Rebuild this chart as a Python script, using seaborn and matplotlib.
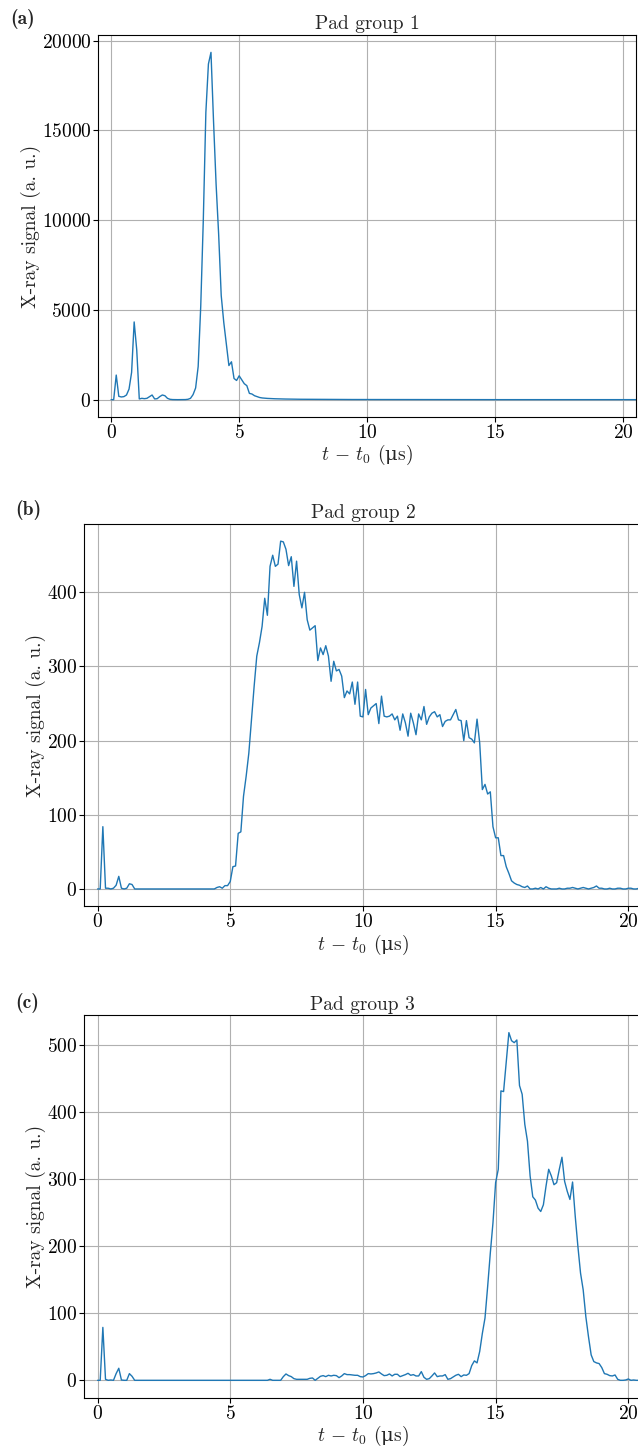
import numpy as np
import matplotlib
matplotlib.use("Agg")
import matplotlib.pyplot as plt
from matplotlib.ticker import MultipleLocator
import seaborn as sns

# ---------------- data (sampled every 0.1 us, t = 0 ... 20.5) ----------------
DT = 0.1
N_SAMPLES = 206

signal_a = [
    0, 0, 1370, 185, 150, 170, 260, 590, 1520, 4330,
    2780, 40, 75, 55, 75, 170, 260, 40, 55, 170,
    260, 220, 75, 20, 5, 0, 0, 0, 0, 5,
    20, 75, 280, 650, 1850, 5200, 10000, 16000, 18700, 19350,
    15500, 12000, 9200, 5800, 4300, 3100, 1900, 2110, 1180, 1070,
    1330, 1110, 890, 780, 350, 315, 220, 170, 120, 95,
    80, 70, 62, 55, 50, 45, 41, 38, 35, 32,
    30, 28, 26, 24, 22, 21, 20, 19, 18, 17,
    16, 15, 14, 13, 13, 12, 12, 11, 11, 10,
    10, 9, 9, 8, 8, 8, 7, 7, 7, 6,
    6, 6, 6, 5, 5, 5, 5, 5, 4, 4,
    4, 4, 4, 4, 4, 3, 3, 3, 3, 3,
    3, 3, 3, 3, 3, 2, 2, 2, 2, 2,
    2, 2, 2, 2, 2, 2, 2, 2, 2, 2,
    2, 2, 2, 2, 2, 1, 1, 1, 1, 1,
    1, 1, 1, 1, 1, 1, 1, 1, 1, 1,
    1, 1, 1, 1, 1, 1, 1, 1, 1, 1,
    1, 1, 1, 1, 1, 1, 1, 1, 1, 1,
    1, 1, 1, 1, 1, 1, 1, 1, 1, 1,
    1, 1, 1, 1, 1, 1, 1, 1, 1, 1,
    1, 1, 1, 1, 1, 1,
]

signal_b = [
    0, 0, 84, 1, 1, 0, 1, 5, 17, 1,
    0, 1, 7, 6, 0, 0, 0, 0, 0, 0,
    0, 0, 0, 0, 0, 0, 0, 0, 0, 0,
    0, 0, 0, 0, 0, 0, 0, 0, 0, 0,
    0, 0, 0, 0, 0, 2, 3, 1, 4.5, 4.5,
    10, 30, 31, 75, 77, 125, 152, 183, 228, 273,
    314, 332, 354, 392, 369, 435, 450, 435, 438, 469,
    468, 458, 436, 448, 408, 442, 397, 379, 400, 363,
    349, 352, 355, 308, 325, 316, 328, 314, 280, 307,
    294, 296, 287, 258, 267, 263, 279, 249, 279, 233,
    232, 269, 235, 244, 247, 250, 223, 260, 233, 232,
    233, 236, 228, 233, 214, 236, 224, 206, 237, 224,
    208, 236, 228, 246, 222, 232, 237, 239, 232, 235,
    219, 226, 228, 228, 235, 242, 228, 227, 200, 227,
    204, 202, 197, 229, 197, 134, 141, 128, 131, 84,
    69, 69, 45, 45, 30, 21, 11, 8, 6, 5,
    3, 2, 4, 0, 0, 1, 0, 2, 0, 3,
    1, 0, 0, 0, 1, 0, 0, 1, 1, 2,
    1, 0, 1, 2, 1, 0, 1, 2, 4, 1,
    1, 0, 0, 1, 0, 0, 1, 1, 0, 0,
    1, 1, 0, 0, 1, 0,
]

signal_c = [
    0, 0, 79, 1.5, 0, 0.5, 0, 10, 18, 0.5,
    0, 0, 10, 6, 0, 0, 0, 0, 0, 0,
    0, 0, 0, 0, 0, 0, 0, 0, 0, 0,
    0, 0, 0, 0, 0, 0, 0, 0, 0, 0,
    0, 0, 0, 0, 0, 0, 0, 0, 0, 0,
    0, 0, 0, 0, 0, 0, 0, 0, 0, 0,
    0, 0, 0, 0, 0, 1.5, 0, 0, 0, 0,
    5.5, 9.5, 7, 5.5, 2.5, 1.5, 1.5, 1.5, 1.5, 1.5,
    3, 3.5, 0, 3, 6, 7, 5.5, 7.5, 6.5, 7.5,
    7, 4, 6.5, 10, 8.5, 8.5, 8, 7.5, 7.5, 5.5,
    5, 7, 10, 9.5, 10, 11, 12.5, 9.5, 7, 7.5,
    9.5, 6.5, 9, 9, 5.5, 7, 8.5, 10.5, 7.5, 8.5,
    6.5, 6.5, 13, 4.5, 1.5, 2.5, 6.5, 11, 5.5, 6.5,
    6.5, 8.5, 1.5, 2.5, 5, 7.5, 9, 5.5, 8, 7.5,
    10, 22, 29, 26, 43, 70, 93, 140, 190, 235,
    295, 315, 432, 431, 475, 519, 507, 504, 508, 440,
    427, 382, 357, 305, 274, 269, 257, 252, 262, 290,
    315, 305, 292, 295, 315, 333, 297, 282, 270, 296,
    245, 200, 160, 135, 95, 65, 38, 28, 26, 25,
    19, 10, 9, 7, 6.5, 8, 1.5, 0, 0, 0.5,
    2, 0, 0.5, 0, 0, 0,
]

titles = ["Pad group 1", "Pad group 2", "Pad group 3"]
panel_labels = ["(a)", "(b)", "(c)"]
x_ticks = [0, 5, 10, 15, 20]
y_tick_steps = [5000, 100, 100]

time_us = np.round(np.arange(N_SAMPLES) * DT, 1)

# ---------------- style ----------------
sns.set_style("ticks")
plt.rcParams.update({
    "font.family": ["cmr10", "DejaVu Serif"],
    "mathtext.fontset": "cm",
    "mathtext.rm": "cmr10",
    "mathtext.it": "cmmi10",
    "mathtext.bf": "cmb10",
    "mathtext.sf": "DejaVu Serif",
    "mathtext.cal": "cmsy10",
    "mathtext.tt": "cmtt10",
    "mathtext.fallback": "cm",
    "axes.formatter.use_mathtext": True,
    "axes.unicode_minus": False,
    "axes.edgecolor": "black",
    "axes.linewidth": 0.8,
    "xtick.color": "black",
    "ytick.color": "black",
    "xtick.major.width": 0.8,
    "ytick.major.width": 0.8,
    "xtick.major.size": 3.5,
    "ytick.major.size": 3.5,
    "xtick.major.pad": 1.5,
    "ytick.major.pad": 1.5,
    "grid.color": "#b0b0b0",
    "grid.linewidth": 0.8,
    "font.size": 14,
})

fig = plt.figure(figsize=(6.38, 14.46), dpi=100)
axes_pos = [
    [0.1541, 0.7116, 0.8428, 0.2642],
    [0.1321, 0.3732, 0.8735, 0.2646],
    [0.1321, 0.0334, 0.8735, 0.2645],
]
label_pos = [(10 / 638, 1 - 19 / 1446), (15 / 638, 1 - 510 / 1446), (15 / 638, 1 - 1003 / 1446)]

for pos, sig, title, lab, lpos, ystep in zip(axes_pos, [signal_a, signal_b, signal_c], titles,
                                             panel_labels, label_pos, y_tick_steps):
    ax = fig.add_axes(pos)
    sns.lineplot(x=time_us, y=np.asarray(sig, dtype=float), ax=ax, color="#1f77b4",
                 linewidth=1.0, estimator=None)
    ax.set_xlim(-0.5, 20.5)
    ax.set_xticks(x_ticks)
    ax.yaxis.set_major_locator(MultipleLocator(ystep))
    ax.grid(True)
    ax.set_axisbelow(True)
    ax.set_title(title, fontsize=14, pad=4)
    ax.set_xlabel(r"$t \,-\, t_0$ ($\mathsf{\mu}$s)", fontsize=14, labelpad=1,
                  math_fontfamily="custom")
    ax.set_ylabel("X-ray signal (a. u.)", fontsize=14, labelpad=0.5)
    ax.tick_params(labelsize=14)
    for s in ax.spines.values():
        s.set_visible(True)
        s.set_color("black")
    fig.text(lpos[0], lpos[1], lab, family="cmb10", fontsize=14, va="center", ha="left")

fig.savefig("out.png", dpi=100)
